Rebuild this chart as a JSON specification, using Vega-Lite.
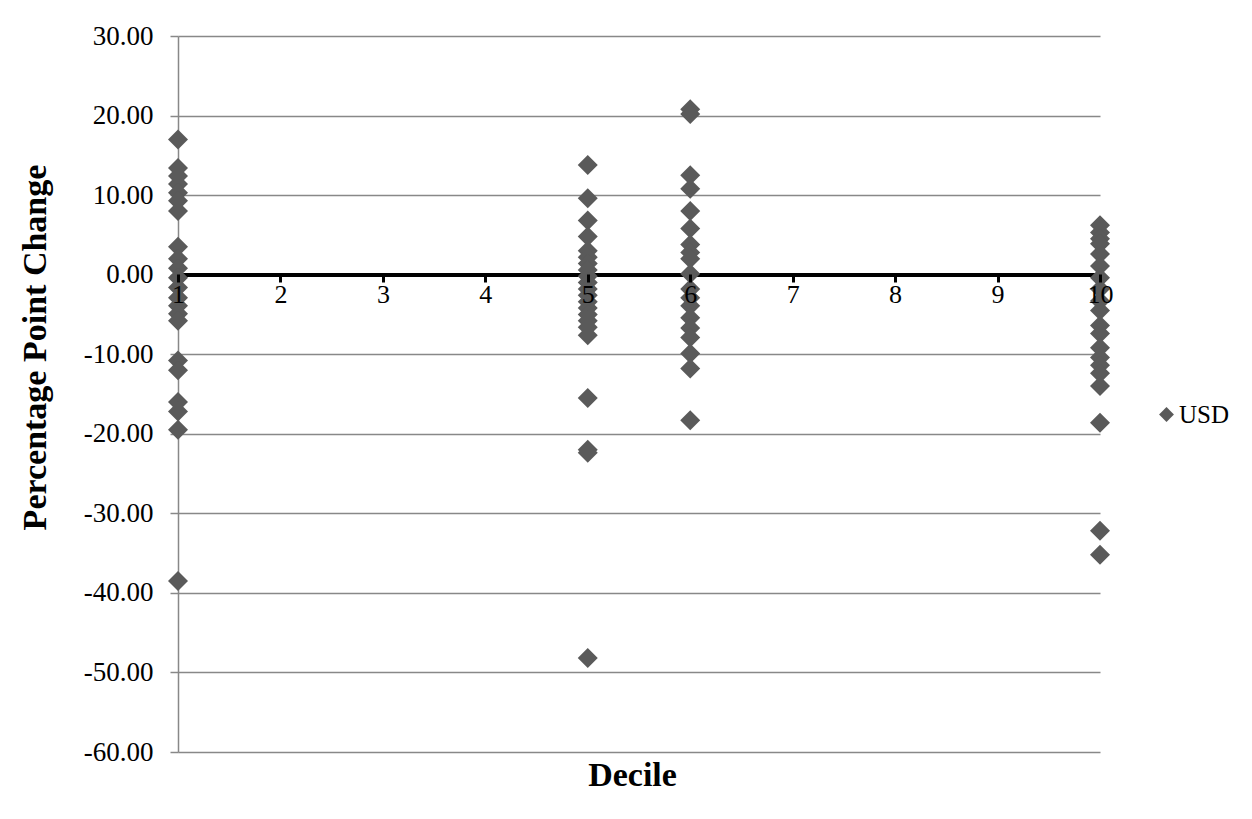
{
  "$schema": "https://vega.github.io/schema/vega-lite/v6.json",
  "autosize": "none",
  "width": 922,
  "height": 716,
  "padding": {"left": 178, "top": 36, "right": 152, "bottom": 67},
  "background": "white",
  "config": {
    "font": "Liberation Serif",
    "view": {"stroke": null}
  },
  "data": {
    "values": [
      {"decile": 1, "change": 17.0, "series": "USD"},
      {"decile": 1, "change": 13.4, "series": "USD"},
      {"decile": 1, "change": 12.4, "series": "USD"},
      {"decile": 1, "change": 11.4, "series": "USD"},
      {"decile": 1, "change": 10.3, "series": "USD"},
      {"decile": 1, "change": 9.3, "series": "USD"},
      {"decile": 1, "change": 8.0, "series": "USD"},
      {"decile": 1, "change": 3.5, "series": "USD"},
      {"decile": 1, "change": 2.0, "series": "USD"},
      {"decile": 1, "change": 0.8, "series": "USD"},
      {"decile": 1, "change": -0.4, "series": "USD"},
      {"decile": 1, "change": -1.6, "series": "USD"},
      {"decile": 1, "change": -2.9, "series": "USD"},
      {"decile": 1, "change": -3.9, "series": "USD"},
      {"decile": 1, "change": -4.9, "series": "USD"},
      {"decile": 1, "change": -5.8, "series": "USD"},
      {"decile": 1, "change": -10.8, "series": "USD"},
      {"decile": 1, "change": -12.0, "series": "USD"},
      {"decile": 1, "change": -16.0, "series": "USD"},
      {"decile": 1, "change": -17.2, "series": "USD"},
      {"decile": 1, "change": -19.5, "series": "USD"},
      {"decile": 1, "change": -38.5, "series": "USD"},
      {"decile": 5, "change": 13.8, "series": "USD"},
      {"decile": 5, "change": 9.6, "series": "USD"},
      {"decile": 5, "change": 6.8, "series": "USD"},
      {"decile": 5, "change": 4.8, "series": "USD"},
      {"decile": 5, "change": 3.0, "series": "USD"},
      {"decile": 5, "change": 2.2, "series": "USD"},
      {"decile": 5, "change": 1.4, "series": "USD"},
      {"decile": 5, "change": 0.6, "series": "USD"},
      {"decile": 5, "change": -0.2, "series": "USD"},
      {"decile": 5, "change": -1.0, "series": "USD"},
      {"decile": 5, "change": -1.8, "series": "USD"},
      {"decile": 5, "change": -2.6, "series": "USD"},
      {"decile": 5, "change": -3.4, "series": "USD"},
      {"decile": 5, "change": -4.2, "series": "USD"},
      {"decile": 5, "change": -5.0, "series": "USD"},
      {"decile": 5, "change": -5.8, "series": "USD"},
      {"decile": 5, "change": -6.6, "series": "USD"},
      {"decile": 5, "change": -7.6, "series": "USD"},
      {"decile": 5, "change": -15.5, "series": "USD"},
      {"decile": 5, "change": -22.0, "series": "USD"},
      {"decile": 5, "change": -22.4, "series": "USD"},
      {"decile": 5, "change": -48.2, "series": "USD"},
      {"decile": 6, "change": 20.8, "series": "USD"},
      {"decile": 6, "change": 20.2, "series": "USD"},
      {"decile": 6, "change": 12.5, "series": "USD"},
      {"decile": 6, "change": 10.8, "series": "USD"},
      {"decile": 6, "change": 8.0, "series": "USD"},
      {"decile": 6, "change": 5.8, "series": "USD"},
      {"decile": 6, "change": 3.8, "series": "USD"},
      {"decile": 6, "change": 2.8, "series": "USD"},
      {"decile": 6, "change": 2.0, "series": "USD"},
      {"decile": 6, "change": 0.1, "series": "USD"},
      {"decile": 6, "change": -1.8, "series": "USD"},
      {"decile": 6, "change": -2.9, "series": "USD"},
      {"decile": 6, "change": -3.9, "series": "USD"},
      {"decile": 6, "change": -5.4, "series": "USD"},
      {"decile": 6, "change": -6.7, "series": "USD"},
      {"decile": 6, "change": -7.9, "series": "USD"},
      {"decile": 6, "change": -9.9, "series": "USD"},
      {"decile": 6, "change": -11.8, "series": "USD"},
      {"decile": 6, "change": -18.3, "series": "USD"},
      {"decile": 10, "change": 6.2, "series": "USD"},
      {"decile": 10, "change": 5.3, "series": "USD"},
      {"decile": 10, "change": 4.5, "series": "USD"},
      {"decile": 10, "change": 3.9, "series": "USD"},
      {"decile": 10, "change": 2.6, "series": "USD"},
      {"decile": 10, "change": 1.1, "series": "USD"},
      {"decile": 10, "change": -0.4, "series": "USD"},
      {"decile": 10, "change": -1.8, "series": "USD"},
      {"decile": 10, "change": -3.3, "series": "USD"},
      {"decile": 10, "change": -4.5, "series": "USD"},
      {"decile": 10, "change": -6.4, "series": "USD"},
      {"decile": 10, "change": -7.4, "series": "USD"},
      {"decile": 10, "change": -9.2, "series": "USD"},
      {"decile": 10, "change": -10.4, "series": "USD"},
      {"decile": 10, "change": -11.4, "series": "USD"},
      {"decile": 10, "change": -12.4, "series": "USD"},
      {"decile": 10, "change": -14.0, "series": "USD"},
      {"decile": 10, "change": -18.6, "series": "USD"},
      {"decile": 10, "change": -32.2, "series": "USD"},
      {"decile": 10, "change": -35.2, "series": "USD"}
    ]
  },
  "layer": [
    {
      "mark": {"type": "rule", "color": "#000000", "strokeWidth": 3.5},
      "encoding": {"y": {"datum": 0, "type": "quantitative"}}
    },
    {
      "mark": {"type": "point", "shape": "diamond", "filled": true, "opacity": 1, "size": 400, "strokeWidth": 0},
      "encoding": {
        "x": {
          "field": "decile",
          "type": "quantitative",
          "scale": {"domain": [1, 10], "nice": false, "zero": false},
          "axis": {
            "title": "Decile",
            "titleFont": "Liberation Serif",
            "titleFontSize": 34,
            "titleFontWeight": "bold",
            "titleColor": "#000000",
            "titleBaseline": "middle",
            "titleX": 454,
            "titleY": 501,
            "offset": -478,
            "values": [1, 2, 3, 4, 5, 6, 7, 8, 9, 10],
            "format": "d",
            "grid": false,
            "domain": false,
            "ticks": true,
            "tickColor": "#000000",
            "tickWidth": 3,
            "tickSize": 8,
            "labelFont": "Liberation Serif",
            "labelFontSize": 26,
            "labelColor": "#000000",
            "labelPadding": -1,
            "labelFlush": false,
            "labelOverlap": false,
            "zindex": 1
          }
        },
        "y": {
          "field": "change",
          "type": "quantitative",
          "scale": {"domain": [-60, 30], "nice": false, "zero": false},
          "axis": {
            "title": "Percentage Point Change",
            "titleFont": "Liberation Serif",
            "titleFontSize": 34,
            "titleFontWeight": "bold",
            "titleColor": "#000000",
            "titleAngle": 270,
            "titleAlign": "center",
            "titleBaseline": "middle",
            "titleX": -143,
            "titleY": 311,
            "values": [-60, -50, -40, -30, -20, -10, 0, 10, 20, 30],
            "format": ".2f",
            "labelExpr": "replace(datum.label, '\u2212', '-')",
            "grid": true,
            "gridColor": "#888888",
            "gridWidth": 1.5,
            "domain": true,
            "domainColor": "#888888",
            "domainWidth": 1.5,
            "tickColor": "#888888",
            "tickWidth": 1.5,
            "tickSize": 8,
            "labelFont": "Liberation Serif",
            "labelFontSize": 27,
            "labelColor": "#000000",
            "labelPadding": 17,
            "zindex": 0
          }
        },
        "color": {
          "field": "series",
          "type": "nominal",
          "scale": {"range": ["#5a5a5a"]},
          "legend": {
            "title": null,
            "orient": "none",
            "legendX": 976,
            "legendY": 366,
            "symbolType": "diamond",
            "symbolSize": 220,
            "symbolStrokeWidth": 0,
            "labelFont": "Liberation Serif",
            "labelFontSize": 25,
            "labelColor": "#000000",
            "labelOffset": 0
          }
        }
      }
    }
  ]
}
